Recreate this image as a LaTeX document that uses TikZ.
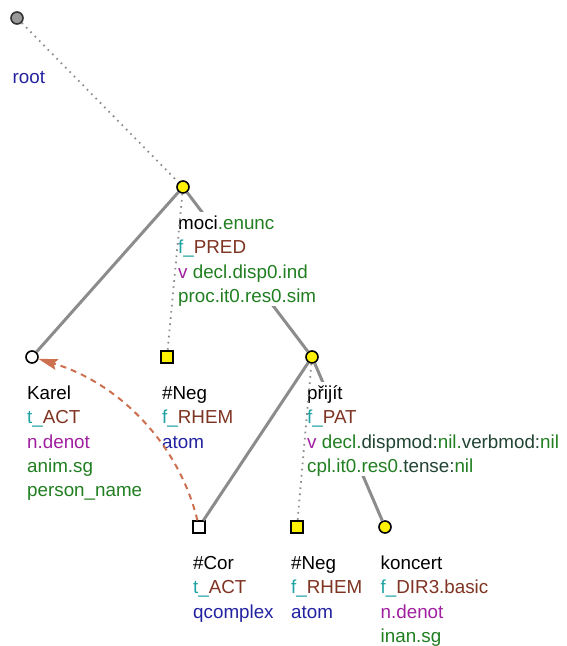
\documentclass[tikz,border=0pt]{standalone}
\usepackage{fontspec}
\setmainfont{Liberation Sans}
\usetikzlibrary{calc,arrows.meta}
\usepackage{xcolor}
\definecolor{edgegray}{HTML}{8C8C8C}
\definecolor{lblteal}{HTML}{1FA3A3}
\definecolor{lblbrown}{HTML}{7F3322}
\definecolor{lblpurple}{HTML}{A020A0}
\definecolor{lblgreen}{HTML}{217F21}
\definecolor{lblblue}{HTML}{2222A0}
\definecolor{lbldark}{HTML}{224433}
\definecolor{corefarrow}{HTML}{CC7050}

\begin{document}
\begin{tikzpicture}[x=1pt,y=-1pt,
  ycirc/.style={circle,draw=black,line width=1.6pt,fill=yellow,minimum size=12pt,inner sep=0pt},
  wcirc/.style={circle,draw=black,line width=1.6pt,fill=white,minimum size=12pt,inner sep=0pt},
  gcirc/.style={circle,draw=black!80,line width=1.6pt,fill=black!40,minimum size=12pt,inner sep=0pt},
  ysq/.style={rectangle,draw=black,line width=1.6pt,fill=yellow,minimum size=11.5pt,inner sep=0pt},
  wsq/.style={rectangle,draw=black,line width=1.6pt,fill=white,minimum size=11.5pt,inner sep=0pt},
  solidedge/.style={draw=edgegray,line width=3pt},
  dotedge/.style={draw=edgegray,line width=1.8pt,dash pattern=on 1.6pt off 4.6pt},
  lbl/.style={anchor=north west,inner sep=0pt,fill=white,align=left,font=\fontsize{18.8}{24.4}\selectfont}]
\useasboundingbox (0,0) rectangle (566,646);

% tree nodes
\node[gcirc] (root) at (17,18) {};
\node[ycirc] (moci) at (183,187) {};
\node[wcirc] (karel) at (32,357) {};
\node[ysq] (neg1) at (167,357) {};
\node[ycirc] (prijit) at (312,357) {};
\node[wsq] (cor) at (199,527) {};
\node[ysq] (neg2) at (297,527) {};
\node[ycirc] (koncert) at (385,527) {};

% solid edges
\draw[solidedge] (moci) -- (karel);
\draw[solidedge] (moci) -- (prijit);
\draw[solidedge] (prijit) -- (cor);
\draw[solidedge] (prijit) -- (koncert);

% labels
\node[anchor=base west,inner sep=0pt,font=\fontsize{18.8}{24.4}\selectfont] (rootlbl) at ($(root)+(-4.5,65)$) {\textcolor{lblblue}{root}};
\node[lbl] (mocilbl) at ($(moci)+(-5,25)$) {\strut moci\textcolor{lblgreen}{.enunc}\\
  \textcolor{lblteal}{f\_}\textcolor{lblbrown}{PRED}\\
  \textcolor{lblpurple}{v} \textcolor{lblgreen}{decl.disp0.ind}\\
  \textcolor{lblgreen}{proc.it0.res0.sim}};
\node[lbl] (karellbl) at ($(karel)+(-5,25)$) {\strut Karel\\
  \textcolor{lblteal}{t\_}\textcolor{lblbrown}{ACT}\\
  \textcolor{lblpurple}{n.denot}\\
  \textcolor{lblgreen}{anim.sg}\\
  \textcolor{lblgreen}{person\_name}};
\node[lbl] (neg1lbl) at ($(neg1)+(-5,25)$) {\strut\#Neg\\
  \textcolor{lblteal}{f\_}\textcolor{lblbrown}{RHEM}\\
  \textcolor{lblblue}{atom}};
\node[lbl] (prijitlbl) at ($(prijit)+(-5,25)$) {\strut přijít\\
  \textcolor{lblteal}{f\_}\textcolor{lblbrown}{PAT}\\
  \textcolor{lblpurple}{v} \textcolor{lblgreen}{decl.}\textcolor{lbldark}{dispmod:}\textcolor{lblgreen}{nil.}\textcolor{lbldark}{verbmod:}\textcolor{lblgreen}{nil}\\
  \textcolor{lblgreen}{cpl.it0.res0.}\textcolor{lbldark}{tense:}\textcolor{lblgreen}{nil}};
\node[lbl] (corlbl) at ($(cor)+(-6,25)$) {\strut\#Cor\\
  \textcolor{lblteal}{t\_}\textcolor{lblbrown}{ACT}\\
  \textcolor{lblblue}{qcomplex}};
\node[lbl] (neg2lbl) at ($(neg2)+(-6,25)$) {\strut\#Neg\\
  \textcolor{lblteal}{f\_}\textcolor{lblbrown}{RHEM}\\
  \textcolor{lblblue}{atom}};
\node[lbl] (koncertlbl) at ($(koncert)+(-4.5,25)$) {\strut koncert\\
  \textcolor{lblteal}{f\_}\textcolor{lblbrown}{DIR3.basic}\\
  \textcolor{lblpurple}{n.denot}\\
  \textcolor{lblgreen}{inan.sg}};

% dotted edges
\draw[dotedge] (root) -- (moci);
\draw[dotedge] (moci) -- (neg1);
\draw[dotedge] (prijit) -- (neg2);

% coreference arrow
\draw[corefarrow,line width=2pt,dash pattern=on 6pt off 5pt,-{Stealth[length=19pt,width=11pt,inset=3pt]}]
  (cor) .. controls +(-20,-83) and +(87,26) .. (karel);
\end{tikzpicture}
\end{document}
